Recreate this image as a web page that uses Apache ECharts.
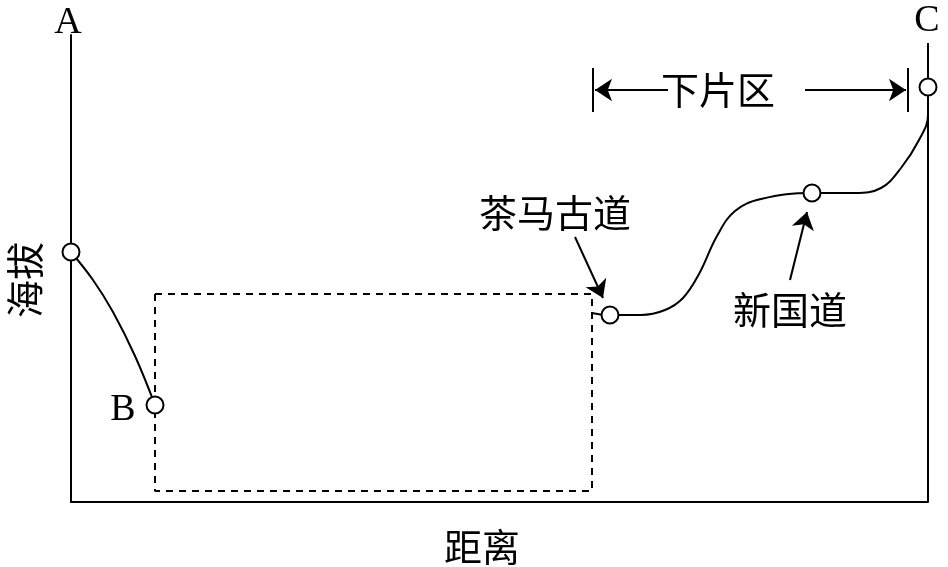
<!DOCTYPE html>
<html>
<head>
<meta charset="utf-8">
<script src="https://cdn.jsdelivr.net/npm/echarts@6/dist/echarts.min.js"></script>
<style>
  html, body { margin: 0; padding: 0; background: #fff; }
  #chart { width: 948px; height: 567px; }
</style>
</head>
<body>
<div id="chart"></div>
<script>
// 剖面示意图：距离 (x) 与 海拔 (y)，单位为示意刻度
const slopeAB = [[0, 250], [22, 222], [42, 190], [64, 146], [84, 97]]
const roadCurve = [
  [539, 187], [570, 187], [594, 192], [612, 204], [628, 228], [646, 266],
  [664, 291], [690, 303], [741, 309], [784, 309], [810, 314], [830, 334],
  [848, 362], [857, 387], [857, 415]
]
const rightEdge = [[857, 0], [857, 459]]
const dashedBox = [[84, 208], [521, 208], [521, 11], [84, 11], [84, 208]]
const linkStub = [[521, 189], [532, 187]]
const keyPoints = [[0, 250], [84, 97], [539, 187], [741, 309], [857, 415]]
const arrows = [
  [[504, 265], [532, 204]],
  [[719, 222], [736, 290]],
  [[597, 412], [524, 412]],
  [[734, 412], [835, 412]]
]
const bars = [
  [[522, 390], [522, 434]],
  [[837, 390], [837, 434]]
]
const letterLabels = [
  { name: 'A', value: [-3, 479] },
  { name: 'C', value: [856, 481] },
  { name: 'B', value: [52, 92] }
]
const cnLabels = [
  { name: '下片区', value: [647, 412] },
  { name: '茶马古道', value: [484, 289] },
  { name: '新国道', value: [719, 192] },
  { name: '距离', value: [411, -45] }
]
const yName = { name: '海拔', value: [-46, 222] }

const chart = echarts.init(document.getElementById('chart'))

const black = '#000'
const cnFont = 'Noto Sans CJK SC'
const latinFont = 'Liberation Serif'

const plainLine = (data, extra) => Object.assign({
  type: 'line',
  data: data,
  symbol: 'none',
  silent: true,
  animation: false,
  clip: false,
  lineStyle: { color: black, width: 2 }
}, extra || {})

const series = [
  plainLine(rightEdge),
  plainLine(slopeAB, { smooth: 0.4 }),
  plainLine(roadCurve, { smooth: 0.4 }),
  plainLine(dashedBox, { lineStyle: { color: black, width: 2, type: [7, 6] } }),
  plainLine(linkStub)
]

bars.forEach(b => series.push(plainLine(b)))

series.push({
  type: 'lines',
  coordinateSystem: 'cartesian2d',
  silent: true,
  animation: false,
  symbol: ['none', 'arrow'],
  symbolSize: [0, 17],
  lineStyle: { color: black, width: 2, opacity: 1 },
  data: arrows.map(a => ({ coords: a }))
})

series.push({
  type: 'scatter',
  data: keyPoints,
  symbol: 'circle',
  symbolSize: 17,
  silent: true,
  animation: false,
  clip: false,
  z: 5,
  itemStyle: { color: '#fff', borderColor: black, borderWidth: 2, opacity: 1 }
})

const textSeries = (data, font, size, rotate) => ({
  type: 'scatter',
  data: data,
  symbolSize: 0,
  silent: true,
  animation: false,
  clip: false,
  itemStyle: { opacity: 1 },
  label: {
    show: true,
    position: 'inside',
    formatter: '{b}',
    rotate: rotate || 0,
    color: black,
    fontFamily: font,
    fontSize: size
  }
})

series.push(textSeries(letterLabels, latinFont, 38))
series.push(textSeries(cnLabels, cnFont, 38))
series.push(textSeries([yName], cnFont, 38, 90))

const option = {
  backgroundColor: '#fff',
  animation: false,
  grid: { left: 71, right: 20, top: 35, bottom: 65 },
  xAxis: {
    type: 'value',
    min: 0,
    max: 857,
    axisLine: { show: true, lineStyle: { color: black, width: 2 } },
    axisTick: { show: false },
    axisLabel: { show: false },
    splitLine: { show: false }
  },
  yAxis: {
    type: 'value',
    min: 0,
    max: 467,
    axisLine: { show: true, lineStyle: { color: black, width: 2 } },
    axisTick: { show: false },
    axisLabel: { show: false },
    splitLine: { show: false }
  },
  series: series
}

chart.setOption(option)
</script>
</body>
</html>
